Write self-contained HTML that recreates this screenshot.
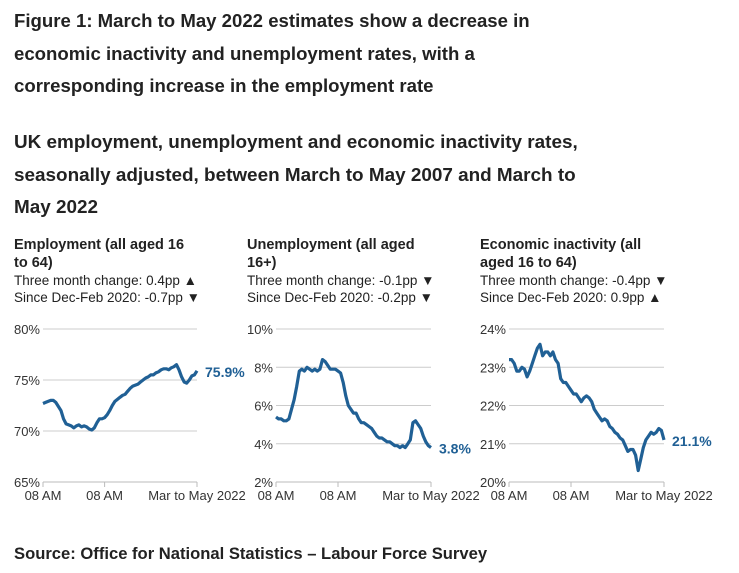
<!DOCTYPE html>
<html><head><meta charset="utf-8"><style>
body{margin:0;width:739px;height:573px;background:#fff;font-family:"Liberation Sans",sans-serif;color:#222;position:relative;overflow:hidden}
.t{position:absolute;left:14px;font-weight:bold;font-size:18.6px;line-height:32.5px;margin:0}
.h{position:absolute;font-size:13.5px;line-height:17px}
.h b{font-size:14.5px}
svg{position:absolute;left:0;top:0}
</style></head><body>
<div class="t" style="top:5px">Figure 1: March to May 2022 estimates show a decrease in<br>economic inactivity and unemployment rates, with a<br>corresponding increase in the employment rate</div>
<div class="t" style="top:127px;font-size:18.9px">UK employment, unemployment and economic inactivity rates,<br>seasonally adjusted, between March to May 2007 and March to<br>May 2022</div>
<div class="h" style="left:14px;top:236px"><b>Employment (all aged 16<br>to 64)</b><br>Three month change: 0.4pp ▲<br>Since Dec-Feb 2020: -0.7pp ▼</div>
<div class="h" style="left:247px;top:236px"><b>Unemployment (all aged<br>16+)</b><br>Three month change: -0.1pp ▼<br>Since Dec-Feb 2020: -0.2pp ▼</div>
<div class="h" style="left:480px;top:236px"><b>Economic inactivity (all<br>aged 16 to 64)</b><br>Three month change: -0.4pp ▼<br>Since Dec-Feb 2020: 0.9pp ▲</div>
<div class="t" style="top:538px;font-size:16.6px">Source: Office for National Statistics – Labour Force Survey</div>
<svg id="c" width="739" height="573"></svg>
<script>
const xLabels=["08 AM","08 AM","Mar to May 2022"];
const empTicks=[65,70,75,80];
const unempTicks=[2,4,6,8,10];
const inactTicks=[20,21,22,23,24];
const empValues=[72.7,72.8,72.9,73.0,73.0,72.8,72.4,72.0,71.2,70.7,70.6,70.5,70.3,70.5,70.6,70.4,70.5,70.4,70.2,70.1,70.3,70.8,71.2,71.2,71.3,71.6,72.0,72.5,72.9,73.1,73.3,73.5,73.6,73.9,74.2,74.4,74.5,74.6,74.8,75.0,75.2,75.3,75.5,75.5,75.7,75.8,76.0,76.1,76.1,76.0,76.2,76.3,76.5,76.0,75.3,74.8,74.7,75.0,75.4,75.5,75.9];
const unempValues=[5.4,5.3,5.3,5.2,5.2,5.3,5.8,6.3,7.0,7.8,7.9,7.8,8.0,7.9,7.8,7.9,7.8,7.9,8.4,8.3,8.1,7.9,7.9,7.9,7.8,7.7,7.2,6.5,6.0,5.8,5.6,5.6,5.3,5.1,5.1,5.0,4.9,4.8,4.6,4.4,4.3,4.3,4.2,4.1,4.1,4.0,3.9,3.9,3.8,3.9,3.8,4.0,4.2,5.1,5.2,5.0,4.8,4.4,4.1,3.9,3.8];
const inactValues=[23.2,23.2,23.1,22.9,22.9,23.0,22.95,22.75,22.9,23.1,23.3,23.5,23.6,23.3,23.4,23.4,23.3,23.4,23.2,23.1,22.7,22.6,22.6,22.5,22.4,22.3,22.3,22.2,22.1,22.2,22.25,22.2,22.1,21.9,21.8,21.7,21.6,21.65,21.6,21.45,21.4,21.3,21.25,21.15,21.1,20.95,20.8,20.85,20.85,20.7,20.3,20.6,20.9,21.1,21.2,21.3,21.25,21.3,21.4,21.35,21.1];
const NS="http://www.w3.org/2000/svg",svg=document.getElementById('c');
function mk(t,a,txt){const e=document.createElementNS(NS,t);for(const k in a)e.setAttribute(k,a[k]);if(txt!=null)e.textContent=txt;svg.appendChild(e);return e;}
function panel(name,x0,x1,ticks,vals){
  const yTop=329,yBot=482,lo=ticks[0],hi=ticks[ticks.length-1];
  const y=v=>yBot-(v-lo)/(hi-lo)*(yBot-yTop);
  const x=i=>x0+i/(vals.length-1)*(x1-x0);
  ticks.forEach((t,k)=>{
    if(k>0){const g=mk('line',{x1:x0,x2:x1,y1:y(t),y2:y(t),stroke:'#ccc','stroke-width':1});
    }
    const l=mk('text',{x:x0-3,y:y(t)+5,'text-anchor':'end','font-size':13,fill:'#333'},t+'%');
    
  });
  const ax=mk('line',{x1:x0,x2:x1,y1:yBot,y2:yBot,stroke:'#bbb'});
  
  const xm=x0+0.4*(x1-x0);
  [x0,xm,x1].forEach((xx,k)=>{
    const tk=mk('line',{x1:xx,x2:xx,y1:yBot,y2:yBot+5,stroke:'#bbb'});
    
    const l=mk('text',{x:k==2?xx:xx,y:yBot+18,'text-anchor':'middle','font-size':13,fill:'#333'},xLabels[k]);
    if(k==2)l.setAttribute('x',xx);
    
  });
  const d=vals.map((v,i)=>(i?'L':'M')+x(i).toFixed(1)+','+y(v).toFixed(1)).join('');
  const p=mk('path',{d:d,fill:'none',stroke:'#206095','stroke-width':3.2,'stroke-linejoin':'round'});
  
  const last=vals[vals.length-1];
  const lb=mk('text',{x:x1+8,y:y(last)+6,'font-size':14,'font-weight':'bold',fill:'#206095'},last.toFixed(1)+'%');
  
}
panel('employment',43,197,empTicks,empValues);
panel('unemployment',276,431,unempTicks,unempValues);
panel('inactivity',509,664,inactTicks,inactValues);
</script>
</body></html>
